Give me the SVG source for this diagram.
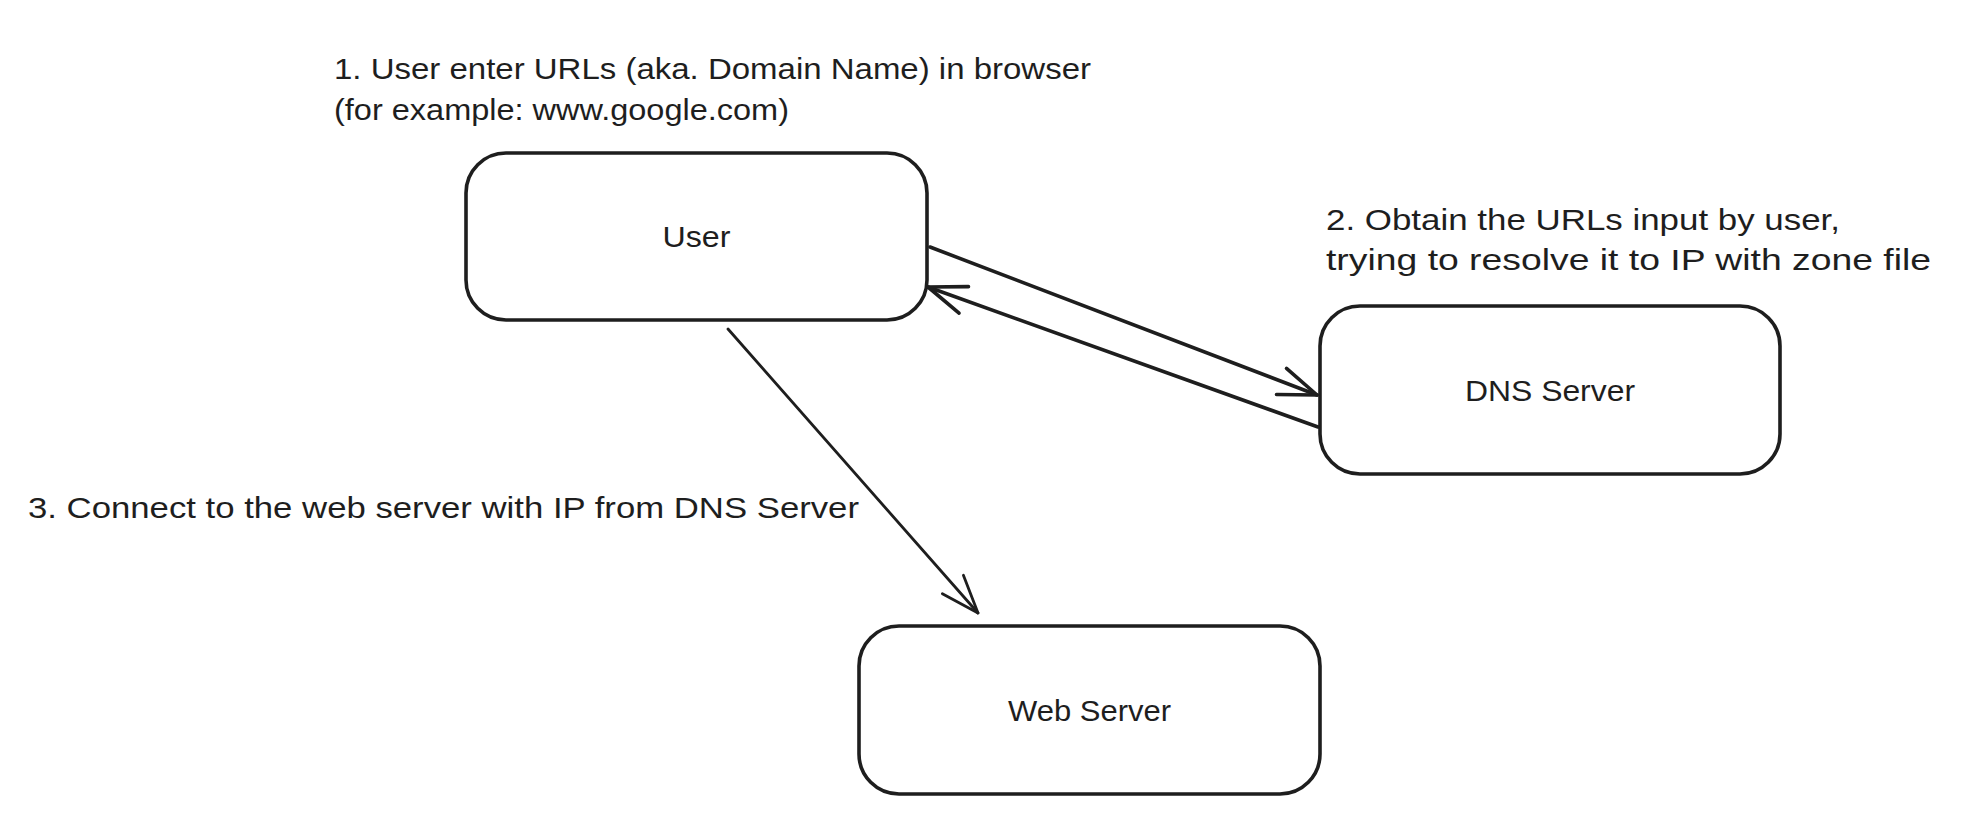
<svg xmlns="http://www.w3.org/2000/svg" width="1966" height="834" viewBox="0 0 1966 834">
  <style>
    .box { fill: #ffffff; stroke: #1e1e1e; stroke-width: 3.6; }
    .lbl { font-family: "Liberation Sans", "DejaVu Sans", sans-serif; font-size: 30px; fill: #1e1e1e; }
    .mid { text-anchor: middle; }
    .conn { fill: none; stroke: #1e1e1e; stroke-linecap: round; stroke-linejoin: round; }
    .thick { stroke-width: 3.6; }
    .thin { stroke-width: 2.8; }
  </style>
  <defs>
    <marker id="ah" markerUnits="userSpaceOnUse" viewBox="-45 -20 50 40" refX="0" refY="0" markerWidth="50" markerHeight="40" orient="auto" overflow="visible">
      <path d="M -38 -14 L 0 0 L -38 14" fill="none" stroke="#1e1e1e" stroke-width="3.6" stroke-linecap="round" stroke-linejoin="round"/>
    </marker>
    <marker id="ah2" markerUnits="userSpaceOnUse" viewBox="-45 -20 50 40" refX="0" refY="0" markerWidth="50" markerHeight="40" orient="auto" overflow="visible">
      <path d="M -38 -14 L 0 0 L -38 14" fill="none" stroke="#1e1e1e" stroke-width="2.8" stroke-linecap="round" stroke-linejoin="round"/>
    </marker>
  </defs>
  <rect width="1966" height="834" fill="#ffffff"/>

  <g id="label-1">
    <text class="lbl" x="334" y="79" textLength="757" lengthAdjust="spacingAndGlyphs">1. User enter URLs (aka. Domain Name) in browser</text>
    <text class="lbl" x="334" y="120" textLength="455" lengthAdjust="spacingAndGlyphs">(for example: www.google.com)</text>
  </g>
  <g id="label-2">
    <text class="lbl" x="1326" y="230" textLength="514" lengthAdjust="spacingAndGlyphs">2. Obtain the URLs input by user,</text>
    <text class="lbl" x="1326" y="270" textLength="605" lengthAdjust="spacingAndGlyphs">trying to resolve it to IP with zone file</text>
  </g>
  <g id="label-3">
    <text class="lbl" x="28" y="518" textLength="831" lengthAdjust="spacingAndGlyphs">3. Connect to the web server with IP from DNS Server</text>
  </g>

  <g id="node-user">
    <rect class="box" x="466" y="153" width="461" height="167" rx="40" ry="40"/>
    <text class="lbl mid" x="696.5" y="247" textLength="68" lengthAdjust="spacingAndGlyphs">User</text>
  </g>
  <g id="node-dns">
    <rect class="box" x="1320" y="306" width="460" height="168" rx="40" ry="40"/>
    <text class="lbl mid" x="1550" y="401" textLength="170" lengthAdjust="spacingAndGlyphs">DNS Server</text>
  </g>
  <g id="node-web">
    <rect class="box" x="859" y="626" width="461" height="168" rx="40" ry="40"/>
    <text class="lbl mid" x="1089.5" y="721" textLength="163" lengthAdjust="spacingAndGlyphs">Web Server</text>
  </g>

  <g id="connectors">
    <path class="conn thick" d="M 930 247 L 1317 395" marker-end="url(#ah)"/>
    <path class="conn thick" d="M 1318 427 L 928 287" marker-end="url(#ah)"/>
    <path class="conn thin" d="M 728 329 L 978 613" marker-end="url(#ah2)"/>
  </g>
</svg>
